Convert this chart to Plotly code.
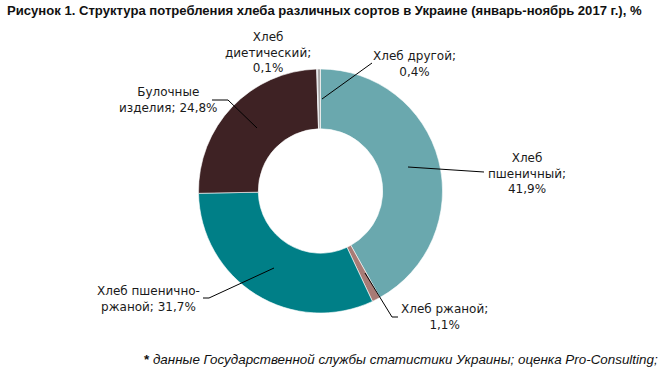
import plotly.graph_objects as go

W, H = 664, 375

labels = ["Хлеб пшеничный", "Хлеб ржаной", "Хлеб пшенично-ржаной", "Булочные изделия",
          "Хлеб диетический", "Хлеб другой"]
values = [41.9, 1.1, 31.7, 24.8, 0.1, 0.4]
label_texts = ["Хлеб<br>пшеничный;<br>41,9%", "Хлеб ржаной;<br>1,1%", "Хлеб пшенично-<br>ржаной; 31,7%",
               "Булочные<br>изделия; 24,8%", "Хлеб<br>диетический;<br>0,1%", "Хлеб другой;<br>0,4%"]
colors = ["#6AA8AE", "#A87B75", "#007F87", "#3E2224", "#8FA3BA", "#A6A6A6"]

title = "Рисунок 1. Структура потребления хлеба различных сортов в Украине (январь-ноябрь 2017 г.), %"
footnote = "данные Государственной службы статистики Украины; оценка Pro-Consulting;"

def px(x):
    return x / W

def py(y):
    return 1 - y / H

cx, cy, r = 320.5, 191, 122

fig = go.Figure(go.Pie(
    labels=labels, values=values, sort=False, direction="clockwise", rotation=0,
    hole=0.51, textinfo="none", hoverinfo="label+percent",
    marker=dict(colors=colors, line=dict(color="white", width=0.6)),
    domain=dict(x=[px(cx - r), px(cx + r)], y=[py(cy + r), py(cy - r)]),
    showlegend=False,
))

label_pos = [(527, 173), (444, 317), (148, 299), (168, 100), (268, 52), (414, 64)]
font = dict(family="DejaVu Sans", size=12, color="#1a1a1a")
ann = []
for t, (x, y) in zip(label_texts, label_pos):
    ann.append(dict(text=t, x=px(x), y=py(y), xref="paper", yref="paper", showarrow=False,
                    xanchor="center", yanchor="middle", align="center", font=font))

ann.append(dict(text="<b>" + title + "</b>", x=px(5), y=py(11), xref="paper", yref="paper",
                showarrow=False, xanchor="left", yanchor="middle",
                font=dict(family="Liberation Sans", size=13.1, color="#111")))
ann.append(dict(text="<b>*</b> <i>" + footnote + "</i>", x=px(142), y=py(359), xref="paper", yref="paper",
                showarrow=False, xanchor="left", yanchor="middle",
                font=dict(family="Liberation Sans", size=13.4, color="#111")))

leaders = [
    [(408, 167), (484, 172)],
    [(365, 273), (392, 317), (398, 317)],
    [(203, 298), (209, 298), (274, 268)],
    [(212, 100), (228, 100), (257, 128)],
    [(372, 63), (322, 99)],
]
shapes = []
for pts in leaders:
    path = "M " + " L ".join(f"{px(x)},{py(y)}" for x, y in pts)
    shapes.append(dict(type="path", path=path, xref="paper", yref="paper",
                       line=dict(color="black", width=1)))

fig.update_layout(
    width=W, height=H, margin=dict(l=0, r=0, t=0, b=0),
    paper_bgcolor="white", plot_bgcolor="white",
    annotations=ann, shapes=shapes,
)

fig.write_html("out.html", config={"displayModeBar": False},
               post_script="document.body.style.margin='0';")
